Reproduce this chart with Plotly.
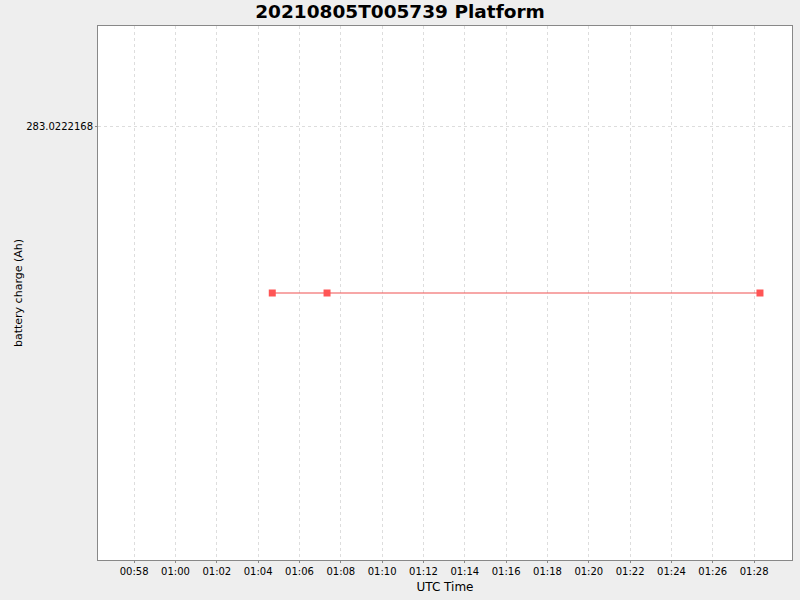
import plotly.graph_objects as go

## Data.
times = ["2021-08-05 01:04:41", "2021-08-05 01:07:20", "2021-08-05 01:28:17"]
charge = [283.02221665, 283.02221665, 283.02221665]
y_ticks = [283.0222168]
y_tick_labels = ["283.0222168"]

fig = go.Figure()
fig.add_trace(go.Scatter(x=times, y=charge,
                         mode="lines+markers",
                         line=dict(color="#F05050", width=1.2),
                         marker=dict(symbol="square", size=7, color="#FF5555"),
                         showlegend=False))

fig.update_layout(width=800, height=600,
                  margin=dict(l=98, r=8, t=26, b=40),
                  paper_bgcolor="#EEEEEE",
                  plot_bgcolor="white",
                  font=dict(family="DejaVu Sans", size=10, color="black"),
                  title=dict(text="<b>20210805T005739 Platform</b>",
                             x=0.5, xref="container", xanchor="center",
                             y=0.98, yref="container", yanchor="middle",
                             font=dict(size=18.5, family="DejaVu Sans")))

fig.update_xaxes(title=dict(text="UTC Time", font=dict(size=12), standoff=6),
                 range=["2021-08-05 00:56:15", "2021-08-05 01:29:50"],
                 dtick=120000, tickformat="%H:%M",
                 showgrid=True, gridcolor="#DDDDDD", griddash="3px,3px",
                 showline=True, linecolor="#888888", mirror=True,
                 ticks="outside", ticklen=2, tickcolor="#888888",
                 zeroline=False)

fig.update_yaxes(title=dict(text="battery charge (Ah)", font=dict(size=11), standoff=1),
                 range=[283.02221665 - 2.4e-7, 283.02221665 + 2.4e-7],
                 tickvals=y_ticks, ticktext=y_tick_labels,
                 showgrid=True, gridcolor="#DDDDDD", griddash="3px,3px",
                 showline=True, linecolor="#888888", mirror=True,
                 ticks="outside", ticklen=2, tickcolor="#888888",
                 zeroline=False)

## drop the browser's default body margin so the figure fills the window
fig.write_html("out.html",
               config={"displayModeBar": False},
               post_script="document.body.style.margin='0';"
                           "document.body.style.overflow='hidden';")
